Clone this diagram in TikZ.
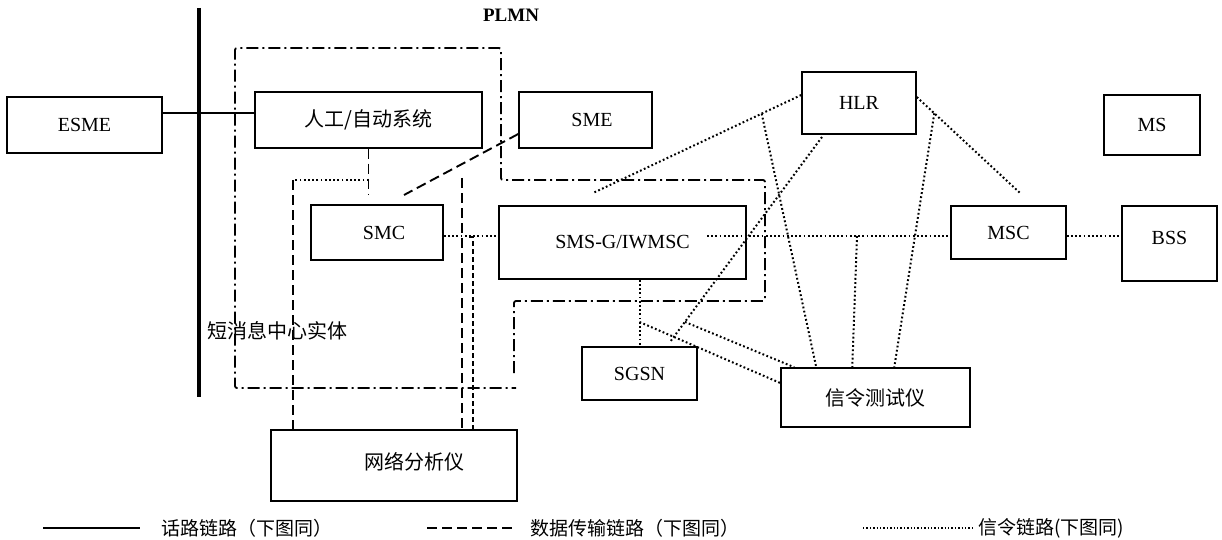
\documentclass[tikz,border=0pt]{standalone}
\usepackage{fontspec}
\setmainfont{Liberation Serif}
\newfontfamily\cjk{Noto Sans CJK SC}
\usetikzlibrary{calc}
\begin{document}
\begin{tikzpicture}[x=1pt,y=-1pt,
  box/.style={draw, line width=1.5pt, inner sep=0pt, font=\fontsize{20}{24}\selectfont},
  cjkfont/.style={font=\cjk\fontsize{20}{24}\selectfont, inner sep=0pt},
  legfont/.style={font=\cjk\fontsize{19}{22}\selectfont, inner sep=0pt},
  latin/.style={font=\fontsize{20}{24}\selectfont, inner sep=0pt},
  voice/.style={line width=1.5pt},
  bus/.style={line width=3.5pt},
  data/.style={line width=1.9pt, dash pattern=on 10pt off 5pt},
  datas/.style={line width=1.9pt, dash pattern=on 5pt off 3pt},
  sig/.style={line width=2pt, dash pattern=on 1.8pt off 2.4pt},
  plmn/.style={line width=1.8pt, dash pattern=on 12pt off 4pt on 2pt off 4pt, rounded corners=2pt}]
\useasboundingbox (0,0) rectangle (1222,540);

% boxes
\node[box, minimum width=155pt, minimum height=56pt] (esme) at (84.5,125) {ESME};
\node[box, cjkfont, draw, line width=1.5pt, minimum width=227pt, minimum height=56pt] (rg) at (368.5,120) {人工/自动系统};
\node[box, minimum width=133pt, minimum height=56pt] (sme) at (585.5,120) {};
\node[latin] (smet) at (592,120) {SME};
\node[box, minimum width=114pt, minimum height=62pt] (hlr) at (859,103) {HLR};
\node[box, minimum width=96pt, minimum height=60pt] (ms) at (1152,125) {MS};
\node[box, minimum width=132pt, minimum height=55pt] (smc) at (377,232.5) {};
\node[latin] (smct) at (384,232.5) {SMC};
\node[box, minimum width=247pt, minimum height=73pt] (smsg) at (622.5,242.5) {SMS-G/IWMSC};
\node[box, minimum width=115pt, minimum height=53pt] (msc) at (1008.5,232.5) {MSC};
\node[box, minimum width=95pt, minimum height=75pt] (bss) at (1169.5,243.5) {};
\node[latin] (bsst) at (1169.5,238) {BSS};
\node[box, minimum width=115pt, minimum height=53pt] (sgsn) at (639.5,373.5) {SGSN};
\node[box, cjkfont, draw, line width=1.5pt, minimum width=189pt, minimum height=59pt] (tester) at (875.5,397.5) {信令测试仪};
\node[box, minimum width=246pt, minimum height=71pt] (na) at (394,465.5) {};
\node[cjkfont] (nat) at (414.5,462) {网络分析仪};

% labels
\node[font=\bfseries\fontsize{19}{22}\selectfont, inner sep=0pt] (plmnlab) at (511,15) {PLMN};
\node[cjkfont] (smcent) at (277.5,331) {短消息中心实体};

% PLMN boundary
\draw[plmn] (514,373) -- (514,301) -- (765,301) -- (765,180) -- (501,180) -- (501,48) -- (235,48) -- (235,388) -- (516,388);

% bus and voice link
\coordinate (busT) at (199,8);
\coordinate (busB) at (199,397);
\draw[bus] (busT) -- (busB);
\draw[voice] ([yshift=12pt]esme.east) -- ([yshift=12pt]esme.east -| rg.west);

% data links
\coordinate (tA) at (368.5,180);
\coordinate (tAe) at (368.5,195);
\draw[data] (rg.south) -- (tAe);
\coordinate (naL) at (293,180);
\draw[sig] (tA) -- (naL);
\draw[data] (naL) -- (naL |- na.north);
\coordinate (smeS) at ([yshift=-14pt]sme.west);
\coordinate (smcT) at (404,195);
\draw[data] (smeS) -- (smcT);
\coordinate (tB) at (462,178);
\draw[data] (tB) -- (tB |- na.north);
\coordinate (tC) at (469,237);
\coordinate (tC2) at (473,237);
\draw[datas] (tC) -- (tC2) -- (tC2 |- na.north);

% signalling links
\coordinate (yl) at (0,236);
\draw[sig] (smc.east |- yl) -- (smsg.west |- yl);
\coordinate (sgIn) at (707,236);
\draw[sig] (sgIn) -- (msc.west |- yl);
\draw[sig] (msc.east |- yl) -- (bss.west |- yl);
\coordinate (hlrA) at ([yshift=8pt]hlr.west);
\coordinate (smsgTop) at (593,193);
\draw[sig] (hlrA) -- (smsgTop);
\coordinate (hlrB) at ([yshift=6pt]hlr.east);
\coordinate (mscTop) at (1020,193);
\draw[sig] (hlrB) -- (mscTop);
\coordinate (hlrC) at (822,137);
\coordinate (sgsnTR) at (670,342);
\draw[sig] (hlrC) -- (sgsnTR);
\draw[sig] ($(hlrA)!0.19!(smsgTop)$) -- ([xshift=36pt]tester.north west);
\draw[sig] ($(hlrB)!0.17!(mscTop)$) -- ([xshift=114pt]tester.north west);
\coordinate (tI) at (857,236);
\draw[sig] (tI) -- ([xshift=72pt]tester.north west);
\draw[sig] (sgsn.north |- smsg.south) -- (sgsn.north);
\coordinate (tK) at (639.5,322);
\draw[sig] (tK) -- ([yshift=14.5pt]tester.west);
\draw[sig] ($(hlrC)!0.902!(sgsnTR)$) -- ([xshift=14pt]tester.north west);

% legend
\coordinate (l1a) at (43,528);
\coordinate (l1b) at (140,528);
\draw[voice] (l1a) -- (l1b);
\node[legfont, anchor=west] (lg1) at (161,528) {话路链路（下图同）};
\coordinate (l2a) at (427,528);
\coordinate (l2b) at (514,528);
\draw[data] (l2a) -- (l2b);
\node[legfont, anchor=west] (lg2) at (530,528) {数据传输链路（下图同）};
\coordinate (l3a) at (863,528);
\coordinate (l3b) at (972,528);
\draw[sig, line width=1.6pt, dash pattern=on 1.4pt off 2pt] (l3a) -- (l3b);
\node[legfont, anchor=west] (lg3) at (978,528) {信令链路(下图同)};
\end{tikzpicture}
\end{document}
